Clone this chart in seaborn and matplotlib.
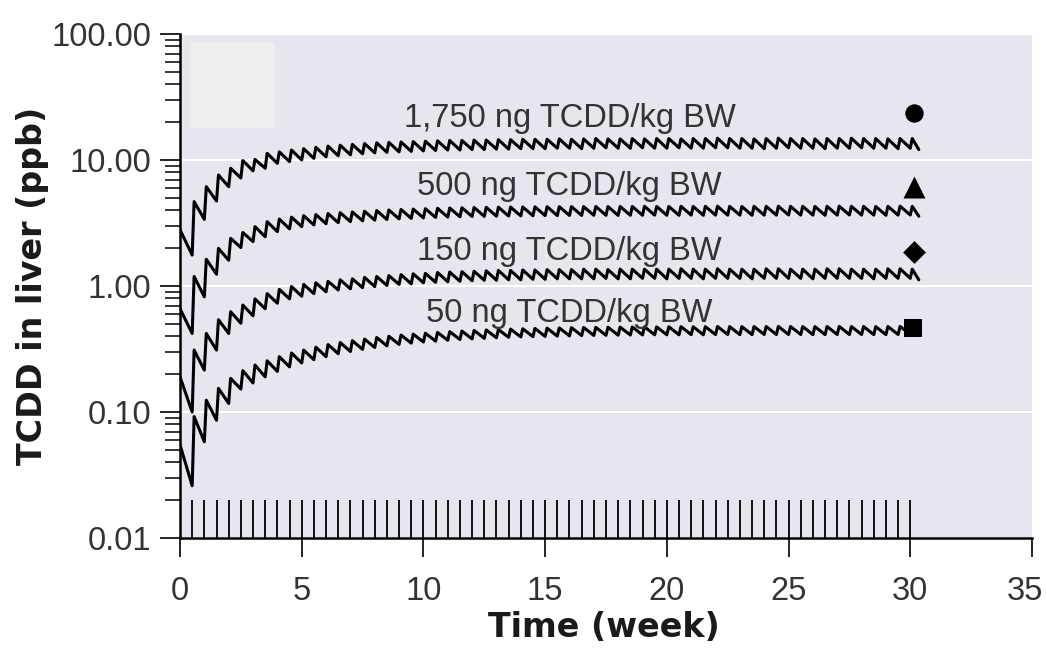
import numpy as np
import pandas as pd
import matplotlib
matplotlib.use("Agg")
import matplotlib.pyplot as plt
import matplotlib.transforms as mtransforms
import seaborn as sns
from matplotlib.ticker import LogLocator, FixedLocator, FixedFormatter, NullFormatter
from matplotlib.patches import Rectangle

# ---------------- data ----------------
dose_weeks = [0.0, 0.5, 1.0, 1.5, 2.0, 2.5, 3.0, 3.5, 4.0, 4.5,
              5.0, 5.5, 6.0, 6.5, 7.0, 7.5, 8.0, 8.5, 9.0, 9.5,
              10.0, 10.5, 11.0, 11.5, 12.0, 12.5, 13.0, 13.5, 14.0, 14.5,
              15.0, 15.5, 16.0, 16.5, 17.0, 17.5, 18.0, 18.5, 19.0, 19.5,
              20.0, 20.5, 21.0, 21.5, 22.0, 22.5, 23.0, 23.5, 24.0, 24.5,
              25.0, 25.5, 26.0, 26.5, 27.0, 27.5, 28.0, 28.5, 29.0, 29.5,
              30.0]
end_week = 30.35

series_labels = ["1,750 ng TCDD/kg BW", "500 ng TCDD/kg BW",
                 "150 ng TCDD/kg BW", "50 ng TCDD/kg BW"]

# liver concentration right after each dose (ppb)
peaks_1750 = [2.80, 4.67, 6.14, 7.60, 8.60, 9.90, 10.1, 11.3, 11.6, 12.0,
              12.3, 12.6, 12.9, 13.1, 13.3, 13.5, 13.7, 13.8, 13.9, 14.0,
              14.1, 14.2, 14.3, 14.3, 14.4, 14.4, 14.5, 14.5, 14.6, 14.6,
              14.6, 14.7, 14.6, 14.7, 14.8, 14.7, 14.7, 14.8, 14.7, 14.8,
              14.8, 14.7, 14.8, 14.8, 14.9, 14.8, 14.8, 14.7, 14.8, 14.9,
              14.8, 14.8, 14.7, 14.8, 14.8, 14.9, 14.8, 14.8, 14.7, 14.8,
              14.8]
# liver concentration just before the next dose (ppb)
troughs_1750 = [1.76, 3.38, 4.73, 6.14, 7.20, 8.20, 8.60, 9.40, 9.70, 10.0,
                10.3, 10.6, 10.8, 11.0, 11.2, 11.4, 11.5, 11.6, 11.7, 11.8,
                11.9, 12.0, 12.0, 12.1, 12.1, 12.2, 12.2, 12.3, 12.3, 12.3,
                12.4, 12.4, 12.3, 12.4, 12.5, 12.4, 12.4, 12.5, 12.4, 12.4,
                12.5, 12.4, 12.4, 12.5, 12.5, 12.4, 12.4, 12.3, 12.4, 12.5,
                12.4, 12.4, 12.3, 12.4, 12.4, 12.5, 12.4, 12.4, 12.3, 12.4,
                12.1]

peaks_500 = [0.66, 1.19, 1.63, 1.99, 2.39, 2.66, 2.96, 3.24, 3.40, 3.52,
             3.62, 3.69, 3.76, 3.82, 3.87, 3.92, 3.97, 4.01, 4.05, 4.08,
             4.11, 4.14, 4.16, 4.18, 4.20, 4.21, 4.22, 4.23, 4.24, 4.25,
             4.26, 4.26, 4.27, 4.27, 4.28, 4.27, 4.28, 4.28, 4.29, 4.28,
             4.28, 4.29, 4.28, 4.29, 4.30, 4.29, 4.28, 4.29, 4.29, 4.30,
             4.29, 4.29, 4.28, 4.29, 4.30, 4.29, 4.29, 4.28, 4.29, 4.30,
             4.29]
troughs_500 = [0.42, 0.82, 1.24, 1.60, 2.02, 2.25, 2.46, 2.70, 2.84, 2.96,
               3.05, 3.12, 3.18, 3.24, 3.29, 3.33, 3.37, 3.41, 3.44, 3.47,
               3.50, 3.52, 3.54, 3.56, 3.57, 3.58, 3.59, 3.60, 3.61, 3.62,
               3.62, 3.63, 3.63, 3.64, 3.64, 3.63, 3.64, 3.64, 3.65, 3.64,
               3.64, 3.65, 3.64, 3.65, 3.65, 3.65, 3.64, 3.65, 3.65, 3.66,
               3.65, 3.65, 3.64, 3.65, 3.66, 3.65, 3.65, 3.64, 3.65, 3.66,
               3.58]

peaks_150 = [0.19, 0.31, 0.42, 0.54, 0.625, 0.706, 0.79, 0.87, 0.94, 0.99,
             1.03, 1.06, 1.09, 1.12, 1.14, 1.17, 1.19, 1.21, 1.23, 1.25,
             1.26, 1.28, 1.29, 1.30, 1.31, 1.32, 1.33, 1.33, 1.34, 1.34,
             1.35, 1.35, 1.35, 1.36, 1.36, 1.35, 1.36, 1.36, 1.36, 1.36,
             1.36, 1.37, 1.36, 1.36, 1.37, 1.36, 1.36, 1.36, 1.37, 1.37,
             1.36, 1.36, 1.36, 1.37, 1.37, 1.36, 1.36, 1.36, 1.37, 1.37,
             1.36]
troughs_150 = [0.100, 0.215, 0.31, 0.42, 0.506, 0.58, 0.66, 0.73, 0.79, 0.83,
               0.87, 0.90, 0.93, 0.95, 0.97, 0.99, 1.01, 1.03, 1.04, 1.06,
               1.07, 1.08, 1.09, 1.10, 1.11, 1.11, 1.12, 1.12, 1.13, 1.13,
               1.14, 1.14, 1.14, 1.14, 1.15, 1.14, 1.14, 1.15, 1.15, 1.14,
               1.15, 1.15, 1.14, 1.15, 1.15, 1.15, 1.14, 1.15, 1.15, 1.15,
               1.15, 1.14, 1.15, 1.15, 1.15, 1.15, 1.14, 1.15, 1.15, 1.15,
               1.12]

peaks_50 = [0.055, 0.092, 0.124, 0.154, 0.185, 0.213, 0.236, 0.255, 0.275, 0.294,
            0.310, 0.327, 0.343, 0.356, 0.368, 0.379, 0.390, 0.399, 0.408, 0.415,
            0.422, 0.428, 0.434, 0.439, 0.444, 0.448, 0.452, 0.455, 0.458, 0.461,
            0.463, 0.465, 0.467, 0.469, 0.470, 0.471, 0.472, 0.473, 0.474, 0.474,
            0.475, 0.476, 0.475, 0.476, 0.477, 0.476, 0.476, 0.477, 0.477, 0.478,
            0.477, 0.477, 0.476, 0.477, 0.478, 0.477, 0.477, 0.476, 0.477, 0.478,
            0.477]
troughs_50 = [0.026, 0.058, 0.086, 0.117, 0.152, 0.170, 0.190, 0.210, 0.228, 0.245,
              0.260, 0.275, 0.290, 0.302, 0.314, 0.325, 0.335, 0.344, 0.352, 0.359,
              0.365, 0.371, 0.376, 0.380, 0.384, 0.388, 0.391, 0.394, 0.396, 0.398,
              0.400, 0.402, 0.404, 0.405, 0.406, 0.407, 0.408, 0.409, 0.410, 0.410,
              0.410, 0.411, 0.410, 0.411, 0.412, 0.411, 0.411, 0.412, 0.412, 0.412,
              0.412, 0.411, 0.411, 0.412, 0.412, 0.412, 0.411, 0.411, 0.412, 0.412,
              0.405]

marker_weeks = [30.15, 30.15, 30.15, 30.1]
marker_values = [23.5, 6.1, 1.87, 0.46]

x_ticks = [0, 5, 10, 15, 20, 25, 30, 35]
x_tick_labels = ["0", "5", "10", "15", "20", "25", "30", "35"]
y_ticks = [0.01, 0.1, 1, 10, 100]
y_tick_labels = ["0.01", "0.10", "1.00", "10.00", "100.00"]

x_title = "Time (week)"
y_title = "TCDD in liver (ppb)"

# ---------------- styles / positions ----------------
RISE = 0.08                     # duration of the up-stroke after each dose
label_week = 16.0               # centre of the dose annotations
label_baselines = [18.4, 5.27, 1.61, 0.52]
marker_shapes = ["o", "^", "D", "s"]
marker_sizes = [175, 250, 135, 155]
BG = "#E5E6EE"
TXT = "#333333"

sns.set_theme(style="darkgrid")
plt.rcParams["font.family"] = ["Liberation Sans", "DejaVu Sans"]

fig = plt.figure(figsize=(10.47, 6.63), dpi=100)
fig.patch.set_facecolor("white")
ax = fig.add_axes([0.17192, 0.18854, 0.81375, 0.76018])
ax.set_facecolor(BG)
ax.set_yscale("log")

# build the zig-zag vertices from the peak / trough arrays
all_peaks = [peaks_1750, peaks_500, peaks_150, peaks_50]
all_troughs = [troughs_1750, troughs_500, troughs_150, troughs_50]
rows = []
for lab, pk, tr in zip(series_labels, all_peaks, all_troughs):
    for k, d in enumerate(dose_weeks):
        if k == 0:
            rows.append((lab, d, pk[k]))
        else:
            rows.append((lab, d, tr[k - 1]))
            rows.append((lab, d + RISE, pk[k]))
    rows.append((lab, end_week, tr[-1]))
df = pd.DataFrame(rows, columns=["dose", "week", "ppb"])

ax.add_patch(Rectangle((0.0117, 0.8135), 0.0998, 0.1706, transform=ax.transAxes,
                       facecolor="#EEEEEE", edgecolor="none", zorder=0.5))

sns.rugplot(x=dose_weeks, height=0.075, color="#111111", linewidth=1.4,
            expand_margins=False, ax=ax)

sns.lineplot(data=df, x="week", y="ppb", hue="dose",
             palette={l: "black" for l in series_labels},
             estimator=None, sort=False, linewidth=2.2, legend=False, ax=ax)

for w, v, m, s in zip(marker_weeks, marker_values, marker_shapes, marker_sizes):
    sns.scatterplot(x=[w], y=[v], marker=m, s=s, color="black",
                    linewidth=0, ax=ax, zorder=5)

for lab, yb in zip(series_labels, label_baselines):
    ax.text(label_week, yb, lab, ha="center", va="baseline",
            fontsize=23.5, color=TXT, family=["Liberation Sans", "DejaVu Sans"])

ax.set_xlim(0, 35)
ax.set_ylim(0.01, 100)

ax.xaxis.set_major_locator(FixedLocator(x_ticks))
ax.xaxis.set_major_formatter(FixedFormatter(x_tick_labels))
ax.yaxis.set_major_locator(FixedLocator(y_ticks))
ax.yaxis.set_major_formatter(FixedFormatter(y_tick_labels))
ax.yaxis.set_minor_locator(LogLocator(base=10, subs=[2, 3, 4, 5, 6, 7, 8, 9]))
ax.yaxis.set_minor_formatter(NullFormatter())
ax.xaxis.set_minor_locator(FixedLocator([]))

ax.grid(False)
ax.grid(axis="y", which="major", color="white", linewidth=1.5)
ax.set_axisbelow(True)

for side in ["top", "right"]:
    ax.spines[side].set_visible(False)
for side in ["left", "bottom"]:
    ax.spines[side].set_visible(True)
    ax.spines[side].set_color("black")
    ax.spines[side].set_linewidth(1.8)

ax.tick_params(axis="x", which="major", bottom=True, direction="out",
               length=13.7, width=1.2, color="black", pad=14,
               labelsize=23.5, labelcolor=TXT)
ax.tick_params(axis="y", which="major", left=True, direction="out",
               length=14.4, width=1.2, color="black", pad=6.5,
               labelsize=23.5, labelcolor=TXT)
ax.tick_params(axis="y", which="minor", left=True, direction="out",
               length=10.5, width=1.1, color="black")

# nudge the last x tick label so it stays inside the canvas
last_tick = ax.xaxis.get_major_ticks()[-1]
last_tick.label1.set_transform(last_tick.label1.get_transform() +
                               mtransforms.ScaledTranslation(-5 / 72, 0, fig.dpi_scale_trans))

ax.set_xlabel("")
ax.set_ylabel("")
fig.text(0.5769, 0.0388, x_title, ha="center", va="baseline",
         fontsize=24, fontweight="bold", color="#1a1a1a", family="DejaVu Sans")
fig.text(0.0315, 0.5694, y_title, ha="center", va="center", rotation=90,
         fontsize=24, fontweight="bold", color="#1a1a1a", family="DejaVu Sans")

fig.savefig("out.png", dpi=100)
